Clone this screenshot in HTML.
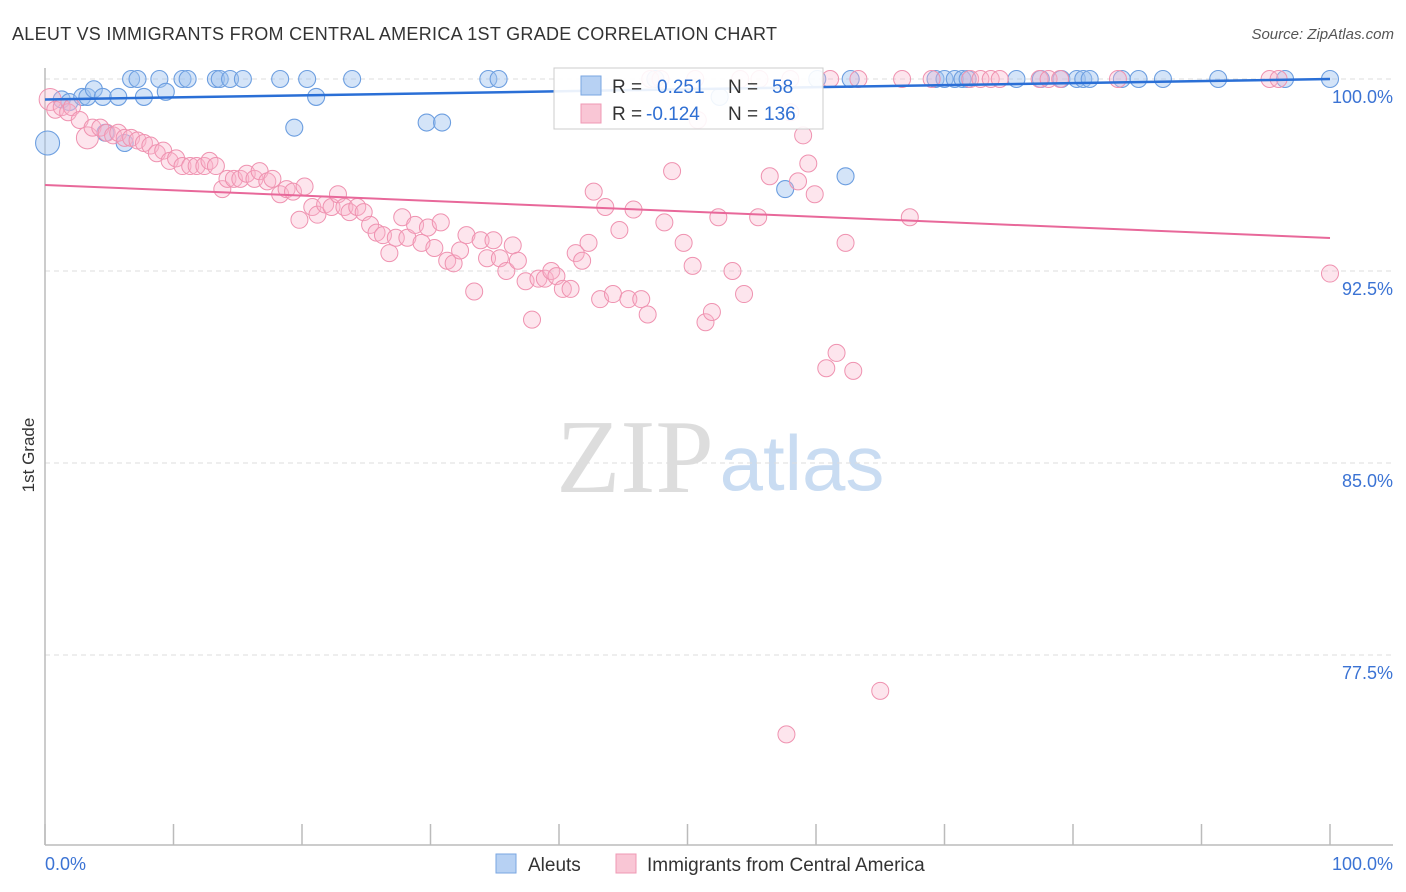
<!DOCTYPE html>
<html><head><meta charset="utf-8"><style>
body{margin:0;background:#fff;font-family:"Liberation Sans",sans-serif;}
svg{display:block}
</style></head><body>
<svg id="chart" width="1406" height="892" xmlns="http://www.w3.org/2000/svg">
<text x="12" y="40" font-size="18" fill="#333" textLength="765">ALEUT VS IMMIGRANTS FROM CENTRAL AMERICA 1ST GRADE CORRELATION CHART</text>
<text x="1394" y="39" font-size="15" fill="#555" font-style="italic" text-anchor="end">Source: ZipAtlas.com</text>
<text transform="translate(34,455) rotate(-90)" font-size="17" fill="#333" text-anchor="middle">1st Grade</text>
<g>
<text x="635" y="492" font-size="105" fill="#ddd" font-family="Liberation Serif, serif" text-anchor="middle">ZIP</text>
<text x="802" y="490" font-size="78" fill="#c9dcf2" text-anchor="middle">atlas</text>
</g>
<g id="grid"></g><g id="axes"></g><g id="blue"></g><g id="pink"></g><g id="trends"></g>
<g>
<rect x="554" y="68" width="269" height="61" fill="#fff" fill-opacity="0.9" stroke="#ccc"/>
<rect x="581" y="76" width="20" height="19" fill="#b7d1f3" stroke="#7aa6e2"/>
<rect x="581" y="104" width="20" height="19" fill="#f9c6d5" stroke="#ef98b4"/>
<text x="612" y="93" font-size="19" fill="#333">R = </text><text x="657" y="93" font-size="19" fill="#2f6fd3">0.251</text>
<text x="728" y="93" font-size="19" fill="#333">N = </text><text x="772" y="93" font-size="19" fill="#2f6fd3">58</text>
<text x="612" y="120" font-size="19" fill="#333">R = </text><text x="646" y="120" font-size="19" fill="#2f6fd3">-0.124</text>
<text x="728" y="120" font-size="19" fill="#333">N = </text><text x="764" y="120" font-size="19" fill="#2f6fd3">136</text>
</g>
<g>
<rect x="496" y="854" width="20" height="19" fill="#b7d1f3" stroke="#7aa6e2"/>
<text x="528" y="871" font-size="19" fill="#333">Aleuts</text>
<rect x="616" y="854" width="20" height="19" fill="#f9c6d5" stroke="#ef98b4"/>
<text x="647" y="871" font-size="19" fill="#333">Immigrants from Central America</text>
</g>
</svg>
<script>
const yTicks=[100,92.5,85,77.5];
const xTickLabels=["0.0%","100.0%"];
const blueX=[0.2,1.3,1.9,2.9,3.3,3.8,4.5,5.7,6.2,4.7,6.7,7.2,7.7,8.9,9.4,10.7,11.1,13.3,13.6,14.4,15.4,18.3,19.4,20.4,21.1,23.9,29.7,30.9,34.5,35.3,47.5,52.5,57.6,60.1,62.3,62.7,69.3,70,70.8,71.4,71.8,75.6,77.5,79.1,80.3,80.8,81.3,83.8,85.1,87,91.3,96.5,100];
const blueY=[97.5,99.2,99.1,99.3,99.3,99.6,99.3,99.3,97.5,97.9,100,100,99.3,100,99.5,100,100,100,100,100,100,100,98.1,100,99.3,100,98.3,98.3,100,100,100,99.3,95.7,100,96.2,100,100,100,100,100,100,100,100,100,100,100,100,100,100,100,100,100,100];
const pinkX=[0.4,0.8,1.3,1.8,2.1,2.7,3.3,3.7,4.3,4.8,5.3,5.7,6.2,6.7,7.2,7.7,8.2,8.7,9.2,9.7,10.2,10.7,11.3,11.8,12.4,12.8,13.3,13.8,14.2,14.7,15.2,15.7,16.3,16.7,17.3,17.7,18.3,18.8,19.3,19.8,20.2,20.8,21.2,21.8,22.3,22.8,23.3,23.7,24.3,24.8,25.3,25.8,26.3,26.8,27.3,27.8,28.2,28.8,29.3,29.8,30.3,30.8,31.3,31.8,32.3,32.8,33.4,33.9,34.4,34.9,35.4,35.9,36.4,36.8,37.4,37.9,38.4,38.9,39.4,39.8,40.3,40.9,41.3,41.8,42.3,42.7,43.2,43.6,44.2,44.7,45.4,45.8,46.4,46.9,48.2,48.8,49.7,50.4,51.4,51.9,52.4,53.5,54.4,55.5,56.4,57.7,58.0,58.6,59.0,59.4,59.9,60.8,61.6,62.3,62.9,65.0,67.3,100,50.8,47.1,47.9,50.6,54.1,55.6,58.0,61.1,63.3,66.7,69.0,72.0,72.8,73.6,74.3,77.4,78.1,79.0,83.5,95.3,96.0];
const pinkY=[99.2,98.8,98.9,98.7,98.9,98.4,97.7,98.1,98.1,97.9,97.8,97.9,97.7,97.7,97.6,97.5,97.4,97.1,97.2,96.8,96.9,96.6,96.6,96.6,96.6,96.8,96.6,95.7,96.1,96.1,96.1,96.3,96.1,96.4,96.0,96.1,95.5,95.7,95.6,94.5,95.8,95.0,94.7,95.1,95.0,95.5,95.0,94.8,95.0,94.8,94.3,94.0,93.9,93.2,93.8,94.6,93.8,94.3,93.6,94.2,93.4,94.4,92.9,92.8,93.3,93.9,91.7,93.7,93.0,93.7,93.0,92.5,93.5,92.9,92.1,90.6,92.2,92.2,92.5,92.3,91.8,91.8,93.2,92.9,93.6,95.6,91.4,95.0,91.6,94.1,91.4,94.9,91.4,90.8,94.4,96.4,93.6,92.7,90.5,90.9,94.6,92.5,91.6,94.6,96.2,74.4,98.7,96.0,97.8,96.7,95.5,88.7,89.3,93.6,88.6,76.1,94.6,92.4,98.4,100,100,100,100,100,100,100,100,100,100,100,100,100,100,100,100,100,100,100,100];
const blueTrend=[99.2,100];
const pinkTrend=[95.86,93.79];
const NS="http://www.w3.org/2000/svg";
const sx=v=>45+v*12.85;
const sy=v=>79+(100-v)*25.6;
function mk(tag,attrs,parent){const e=document.createElementNS(NS,tag);for(const k in attrs)e.setAttribute(k,attrs[k]);document.getElementById(parent).appendChild(e);return e;}
yTicks.forEach(t=>{
  const l=mk('line',{x1:45,x2:1393,y1:sy(t),y2:sy(t),stroke:'#ddd','stroke-dasharray':'5,4'},'grid');
  
  
  const tx=mk('text',{x:1393,y:sy(t)+24,'font-size':18,fill:'#3b73d4','text-anchor':'end'},'grid');
  tx.textContent=t.toFixed(1)+'%';
  
  
});
const ax=mk('line',{x1:45,x2:1393,y1:845,y2:845,stroke:'#bbb','stroke-width':1.5},'axes');


const ay=mk('line',{x1:45,x2:45,y1:68,y2:845,stroke:'#bbb','stroke-width':1.5},'axes');


for(let i=0;i<=10;i++){
  const t=mk('line',{x1:sx(i*10),x2:sx(i*10),y1:824,y2:845,stroke:'#bbb','stroke-width':1.5},'axes');
  
  
}
const xl0=mk('text',{x:45,y:870,'font-size':18,fill:'#3b73d4'},'axes');xl0.textContent=xTickLabels[0];


const xl1=mk('text',{x:1393,y:870,'font-size':18,fill:'#3b73d4','text-anchor':'end'},'axes');xl1.textContent=xTickLabels[1];


blueX.forEach((x,i)=>{
  const c=mk('circle',{cx:sx(x),cy:sy(blueY[i]),r:i===0?12:8.5,fill:'rgba(160,195,240,0.45)',stroke:'#6c9ee0','stroke-width':1.1},'blue');
  
  
});
pinkX.forEach((x,i)=>{
  const c=mk('circle',{cx:sx(x),cy:sy(pinkY[i]),r:(i===0||i===6)?11:8.5,fill:'rgba(248,180,202,0.35)',stroke:'#ef92b0','stroke-width':1},'pink');
  
  
});
const bt=mk('line',{x1:sx(0),x2:sx(100),y1:sy(blueTrend[0]),y2:sy(blueTrend[1]),stroke:'#2a6fd6','stroke-width':2.5},'trends');


const pt=mk('line',{x1:sx(0),x2:sx(100),y1:sy(pinkTrend[0]),y2:sy(pinkTrend[1]),stroke:'#e8689a','stroke-width':2},'trends');


</script>
</body></html>
